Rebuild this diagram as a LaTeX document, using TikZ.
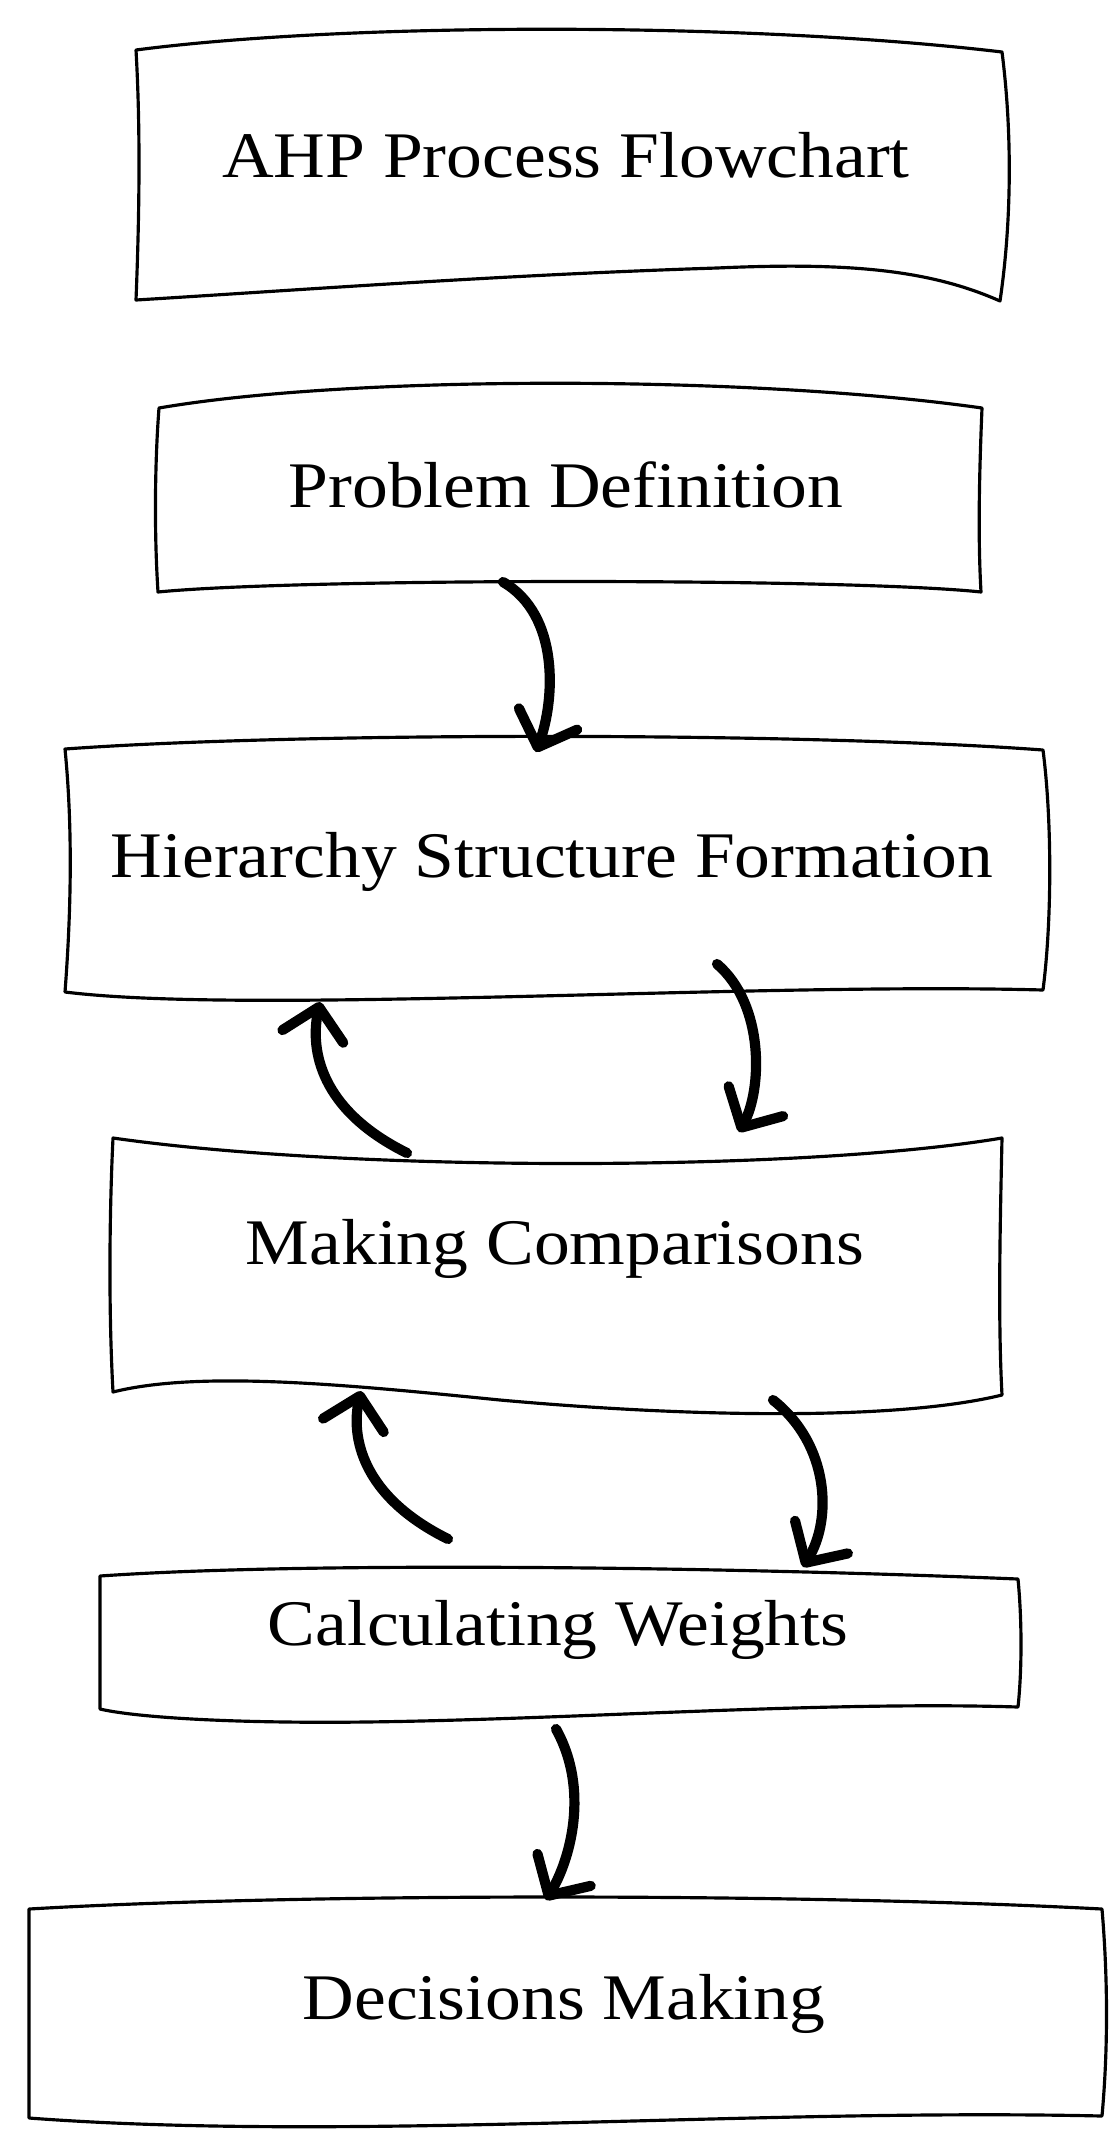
\documentclass[tikz,border=0pt]{standalone}
\usepackage{fontspec}
\setmainfont[FakeStretch=1.1]{Liberation Serif}
\usetikzlibrary{arrows.meta}

\begin{document}
\begin{tikzpicture}[x=0.01cm,y=-0.01cm,
  box/.style={line width=0.9pt,line join=round},
  arr/.style={line width=2.9pt,line cap=round,
    -{Straight Barb[length=3mm,width=6.2mm,line cap=round,line join=round]}},
  lbl/.style={anchor=base,inner sep=0pt,font=\fontsize{18.5}{22}\selectfont}]
\useasboundingbox (0,0) rectangle (1111,2145);

% wavy boxes
\draw[box] (136,50) .. controls (350,22) and (750,22) .. (1002,52)
  .. controls (1012,130) and (1012,220) .. (1000,301)
  .. controls (930,270) and (850,262) .. (717,268)
  .. controls (500,275) and (300,290) .. (136,300)
  .. controls (140,200) and (140,120) .. (136,50) -- cycle;
\draw[box] (159,408) .. controls (350,375) and (750,375) .. (982,408)
  .. controls (979,480) and (978,540) .. (981,592)
  .. controls (850,578) and (300,578) .. (158,592)
  .. controls (154,530) and (155,460) .. (159,408) -- cycle;
\draw[box] (65,749) .. controls (300,732) and (800,732) .. (1043,750)
  .. controls (1052,820) and (1052,920) .. (1043,990)
  .. controls (750,982) and (250,1015) .. (65,992)
  .. controls (72,900) and (72,820) .. (65,749) -- cycle;
\draw[box] (113,1138) .. controls (350,1172) and (800,1172) .. (1002,1138)
  .. controls (1000,1230) and (998,1320) .. (1002,1395)
  .. controls (900,1420) and (700,1418) .. (500,1400)
  .. controls (350,1385) and (200,1370) .. (113,1392)
  .. controls (108,1300) and (110,1200) .. (113,1138) -- cycle;
\draw[box] (100,1576) .. controls (300,1562) and (700,1566) .. (1018,1579)
  .. controls (1022,1620) and (1022,1670) .. (1018,1707)
  .. controls (800,1700) and (500,1725) .. (287,1722)
  .. controls (200,1721) and (130,1716) .. (100,1709)
  -- (100,1576) -- cycle;
\draw[box] (29,1909) .. controls (300,1893) and (800,1893) .. (1102,1909)
  .. controls (1108,1980) and (1108,2050) .. (1102,2116)
  .. controls (750,2108) and (350,2142) .. (29,2118)
  -- (29,1909) -- cycle;

% labels
\node[lbl] (title) at (566,177) {AHP Process Flowchart};
\node[lbl] (prob) at (566,507) {Problem Definition};
\node[lbl] (hier) at (552,877) {Hierarchy Structure Formation};
\node[lbl] (comp) at (555,1264) {Making Comparisons};
\node[lbl] (calc) at (558,1645) {Calculating Weights};
\node[lbl] (dec) at (564,2019) {Decisions Making};

% arrow ends
\coordinate (prob-s) at (503,582);
\coordinate (hier-n) at (536,752);
\coordinate (hier-s) at (717,964);
\coordinate (hier-b) at (320,1002);
\coordinate (comp-n) at (739,1132);
\coordinate (comp-t) at (407,1153);
\coordinate (comp-s) at (773,1400);
\coordinate (comp-b) at (361,1391);
\coordinate (calc-n) at (803,1567);
\coordinate (calc-t) at (448,1539);
\coordinate (calc-s) at (556,1729);
\coordinate (dec-n) at (546,1900);

% arrows
\draw[arr] (prob-s) .. controls (560,615) and (555,700) .. (hier-n);
\draw[arr] (hier-s) .. controls (765,1005) and (762,1090) .. (comp-n);
\draw[arr] (comp-t) .. controls (320,1110) and (310,1050) .. (hier-b);
\draw[arr] (comp-s) .. controls (830,1445) and (832,1520) .. (calc-n);
\draw[arr] (calc-t) .. controls (361,1496) and (351,1436) .. (comp-b);
\draw[arr] (calc-s) .. controls (590,1790) and (570,1860) .. (dec-n);
\end{tikzpicture}
\end{document}
